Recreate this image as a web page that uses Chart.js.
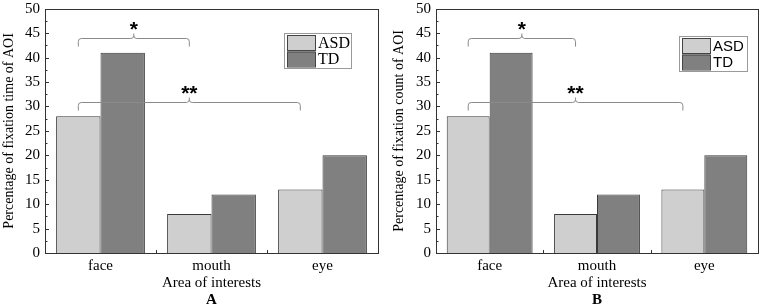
<!DOCTYPE html>
<html>
<head>
<meta charset="utf-8">
<script src="https://cdn.jsdelivr.net/npm/chart.js@4.4.0/dist/chart.umd.min.js"></script>
<style>
  html, body { margin: 0; padding: 0; background: #fff; }
  .wrap { position: absolute; top: 0; height: 308px; }
</style>
</head>
<body>
<div class="wrap" style="left:0;width:390px"><canvas id="chartA"></canvas></div>
<div class="wrap" style="left:390px;width:382px"><canvas id="chartB"></canvas></div>
<script>
// data
var categories = ['face', 'mouth', 'eye'];
var asdTime = [28, 8, 13];
var tdTime = [41, 12, 20];
var asdCount = [28, 8, 13];
var tdCount = [41, 12, 20];
var yTicks = [0, 5, 10, 15, 20, 25, 30, 35, 40, 45, 50];
// significance brackets: from category i to category j (ASD bars), level in y units
var brackets = [
  { from: 0, to: 1, level: 44, label: '*' },
  { from: 0, to: 2, level: 31, label: '**' }
];

var serif = '"Liberation Serif", "Times New Roman", serif';
var sans = '"Liberation Sans", Arial, sans-serif';

// frame, inward ticks, brackets, legend, panel letter
var decor = {
  id: 'decor',
  afterDatasetsDraw: function (chart, args, opts) {
    var ctx = chart.ctx;
    var a = chart.chartArea;
    var xs = chart.scales.x, ys = chart.scales.y;
    ctx.save();
    // frame
    ctx.strokeStyle = '#333';
    ctx.lineWidth = 1;
    ctx.strokeRect(Math.round(a.left) + 0.5, Math.round(a.top) + 0.5,
      Math.round(a.right - a.left), Math.round(a.bottom - a.top));
    // y ticks (major + minor), pointing in
    ctx.beginPath();
    ys.ticks.forEach(function (t, i) {
      var y = Math.round(ys.getPixelForValue(t.value)) + 0.5;
      ctx.moveTo(a.left, y); ctx.lineTo(a.left + 4, y);
      if (i < ys.ticks.length - 1) {
        var ym = Math.round(ys.getPixelForValue((t.value + ys.ticks[i + 1].value) / 2)) + 0.5;
        ctx.moveTo(a.left, ym); ctx.lineTo(a.left + 2.5, ym);
      }
    });
    // x ticks at category boundaries
    for (var i = 0; i < categories.length - 1; i++) {
      var xb = Math.round((xs.getPixelForValue(i) + xs.getPixelForValue(i + 1)) / 2) + 0.5;
      ctx.moveTo(xb, a.bottom); ctx.lineTo(xb, a.bottom - 3);
    }
    ctx.stroke();

    // brackets
    var meta = chart.getDatasetMeta(0);
    ctx.strokeStyle = '#8a8a8a';
    ctx.lineWidth = 1;
    brackets.forEach(function (b) {
      var x0 = meta.data[b.from].x, x1 = meta.data[b.to].x;
      var y = Math.round(ys.getPixelForValue(b.level)) + 0.5;
      var xm = (x0 + x1) / 2;
      var r = 3;
      ctx.beginPath();
      ctx.moveTo(x0, y + 8);
      ctx.lineTo(x0, y + r);
      ctx.quadraticCurveTo(x0, y, x0 + r, y);
      ctx.lineTo(xm - r, y);
      ctx.quadraticCurveTo(xm, y, xm, y - r);
      ctx.lineTo(xm, y - 5);
      ctx.moveTo(xm, y - r);
      ctx.quadraticCurveTo(xm, y, xm + r, y);
      ctx.lineTo(x1 - r, y);
      ctx.quadraticCurveTo(x1, y, x1, y + r);
      ctx.lineTo(x1, y + 8);
      ctx.stroke();
      ctx.fillStyle = '#000';
      ctx.font = 'bold 21px ' + sans;
      ctx.textAlign = 'center';
      ctx.textBaseline = 'alphabetic';
      ctx.fillText(b.label, xm, y - 3);
    });
    ctx.restore();
  },
  afterDraw: function (chart, args, opts) {
    var ctx = chart.ctx;
    var a = chart.chartArea;
    ctx.save();
    // legend box
    var bw = opts.boxW, bh = 35;
    var bx = a.right - opts.fromRight - bw, by = a.top + opts.fromTop;
    ctx.strokeStyle = '#9a9a9a';
    ctx.lineWidth = 1;
    ctx.strokeRect(Math.round(bx) + 0.5, Math.round(by) + 0.5, bw, bh);
    ctx.font = opts.legendFont;
    ctx.textAlign = 'left';
    ctx.textBaseline = 'middle';
    chart.data.datasets.forEach(function (ds, i) {
      var sy = Math.round(by) + 2 + i * 16.5;
      ctx.fillStyle = ds.backgroundColor;
      ctx.fillRect(Math.round(bx) + 3, sy, 28, 15);
      ctx.strokeStyle = '#444';
      ctx.strokeRect(Math.round(bx) + 3.5, sy + 0.5, 28, 15);
      ctx.fillStyle = '#000';
      ctx.fillText(ds.label, bx + 34, sy + 8.5);
    });
    // panel letter
    ctx.font = 'bold 15px ' + serif;
    ctx.textAlign = 'center';
    ctx.textBaseline = 'middle';
    ctx.fillStyle = '#000';
    ctx.fillText(opts.letter, (a.left + a.right) / 2, 300);
    ctx.restore();
  }
};

function makeChart(id, asd, td, yTitle, letter, yWidth, padRight, legendFont, boxW, fromRight, fromTop) {
  return new Chart(document.getElementById(id), {
    type: 'bar',
    data: {
      labels: categories,
      datasets: [
        { label: 'ASD', data: asd, backgroundColor: '#cfcfcf', borderColor: '#3a3a3a', borderWidth: 1 },
        { label: 'TD', data: td, backgroundColor: '#808080', borderColor: '#3a3a3a', borderWidth: 1 }
      ]
    },
    options: {
      responsive: true,
      maintainAspectRatio: false,
      animation: false,
      layout: { padding: { top: 8, right: padRight, left: 0, bottom: 0 } },
      plugins: {
        legend: { display: false },
        tooltip: { enabled: false },
        decor: { letter: letter, legendFont: legendFont, boxW: boxW, fromRight: fromRight, fromTop: fromTop }
      },
      datasets: { bar: { categoryPercentage: 0.8, barPercentage: 1 } },
      scales: {
        x: {
          grid: { display: false, drawTicks: false },
          border: { display: false },
          ticks: { color: '#000', padding: 4, font: { family: serif, size: 15 } },
          title: { display: true, text: 'Area of interests', color: '#000', font: { family: serif, size: 15 }, padding: { top: 0, bottom: 16 } },
          afterFit: function (s) { s.height = 55; }
        },
        y: {
          min: 0, max: 50,
          afterBuildTicks: function (s) { s.ticks = yTicks.map(function (v) { return { value: v }; }); },
          grid: { display: false, drawTicks: false },
          border: { display: false },
          ticks: { color: '#000', padding: 5, font: { family: serif, size: 15, lineHeight: 0.5 } },
          title: { display: true, text: yTitle, color: '#000', font: { family: serif, size: 14 }, padding: { top: 1, bottom: 0 } },
          afterFit: function (s) { s.width = yWidth; }
        }
      }
    },
    plugins: [decor]
  });
}

makeChart('chartA', asdTime, tdTime, 'Percentage of fixation time of AOI', 'A', 45, 12,
  '16px ' + serif, 67, 27, 24);
makeChart('chartB', asdCount, tdCount, 'Percentage of fixation count of AOI', 'B', 46, 14,
  '15px ' + sans, 68, 11, 27);
</script>
</body>
</html>
